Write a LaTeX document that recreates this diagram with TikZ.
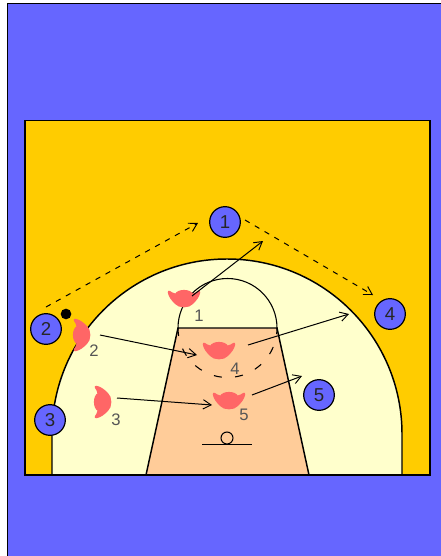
\documentclass[tikz,border=0pt]{standalone}
\usepackage{fontspec}
\setmainfont{Liberation Sans}
\usetikzlibrary{arrows.meta}
\definecolor{courtblue}{HTML}{6666FF}
\definecolor{courtgold}{HTML}{FFCC00}
\definecolor{courtcream}{HTML}{FFFFCC}
\definecolor{courtkey}{HTML}{FFCC99}
\definecolor{defred}{HTML}{FF6666}
\definecolor{deflabel}{HTML}{555555}
\tikzset{
  courtline/.style={draw=black,line width=1.1pt},
  thinline/.style={draw=black,line width=0.8pt},
  offense/.style={circle,draw=black,line width=0.9pt,fill=courtblue,minimum size=23pt,inner sep=0pt,font=\fontsize{14}{14}\selectfont,text=black!85},
  deflab/.style={inner sep=0pt,text=deflabel,font=\fontsize{12.5}{13}\selectfont},
  cut/.style={draw=black,line width=0.75pt,-{Straight Barb[length=6pt,width=7pt,line width=0.7pt]}},
  passline/.style={cut,dash pattern=on 4pt off 4.5pt},
  guard/.pic={
    \filldraw[fill=defred,draw=defred,line width=2pt,line join=round] (-15,-6) .. controls (-13,-5) and (-11,-3) .. (-8,-3)
      .. controls (-6,-8) and (6,-8) .. (8,-3)
      .. controls (11,-3) and (13,-5) .. (15,-6)
      .. controls (14,-1) and (11,2) .. (8,5)
      .. controls (5,9) and (-5,9) .. (-8,5)
      .. controls (-11,2) and (-14,-1) .. (-15,-6) -- cycle;
  }
}
\begin{document}
\begin{tikzpicture}[x=0.75pt,y=-0.75pt]
\useasboundingbox (0,0) rectangle (441,556);
\fill[white] (0,0) rectangle (441,556);
\fill[courtblue] (7.5,3.5) rectangle (441,556);
\draw[black,line width=1.1pt] (7.5,556) -- (7.5,3.5) -- (441,3.5);
\fill[courtgold] (25,120.5) rectangle (430,475);
% three point area
\filldraw[fill=courtcream,courtline] (52,475) -- (52,434) arc[start angle=180,end angle=360,radius=175] -- (402,475) -- cycle;
% key
\filldraw[fill=courtkey,courtline] (146,475) -- (178,328) -- (277,328) -- (309,475) -- cycle;
% free throw circle
\draw[thinline] (178,328) arc[start angle=180,end angle=360,radius=49.5];
\draw[thinline,dash pattern=on 6pt off 10pt] (178,328) arc[start angle=180,end angle=0,radius=49.5];
% hoop
\draw[thinline] (202,444.5) -- (252,444.5);
\draw[thinline] (227,438) circle[radius=6];
\draw[courtline] (25,120.5) rectangle (430,475);
% defenders
\pic at (184,298) {guard};
\pic[rotate=90] at (81,335) {guard};
\pic[rotate=90] at (102,402) {guard};
\pic at (219,350) {guard};
\pic at (229,400) {guard};
\node[deflab] (d1) at (199,316) {1};
\node[deflab] (d2) at (94,351) {2};
\node[deflab] (d3) at (116,420) {3};
\node[deflab] (d4) at (235,369) {4};
\node[deflab] (d5) at (244,415) {5};
% ball
\node[circle,fill=black,minimum size=8pt,inner sep=0pt] (ball) at (66,314) {};
% offense
\node[offense] (o1) at (225,222) {1};
\node[offense] (o2) at (46,329) {2};
\node[offense] (o3) at (50,420) {3};
\node[offense] (o4) at (390,314) {4};
\node[offense] (o5) at (319,395) {5};
% arrow ends
\coordinate (pa) at (46,307);
\coordinate (pb) at (198,223);
\coordinate (pc) at (245,220);
\coordinate (pd) at (373,295);
\coordinate (a1) at (192,296);
\coordinate (b1) at (263,241);
\coordinate (a2) at (100,335);
\coordinate (b2) at (197,355);
\coordinate (a3) at (117,398);
\coordinate (b3) at (212,405);
\coordinate (a4) at (248,345);
\coordinate (b4) at (349,314);
\coordinate (a5) at (252,395);
\coordinate (b5) at (302,376);
\draw[passline] (pa) -- (pb);
\draw[passline] (pc) -- (pd);
\draw[cut] (a1) -- (b1);
\draw[cut] (a2) -- (b2);
\draw[cut] (a3) -- (b3);
\draw[cut] (a4) -- (b4);
\draw[cut] (a5) -- (b5);
\end{tikzpicture}
\end{document}
